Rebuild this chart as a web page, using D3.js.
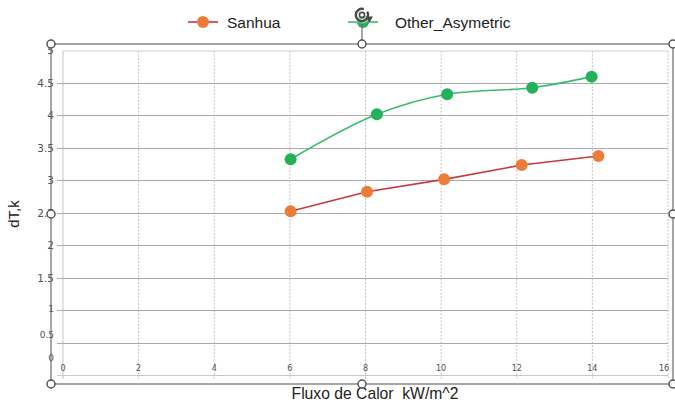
<!DOCTYPE html>
<html>
<head>
<meta charset="utf-8">
<script src="https://cdn.jsdelivr.net/npm/d3@7"></script>
<style>
  html, body { margin: 0; padding: 0; background: #fff; }
  svg { display: block; }
</style>
</head>
<body>
<svg id="chart" width="675" height="406"></svg>
<script>
// Heat flux (kW/m^2) vs temperature difference dT (K)
const seriesNames = ["Sanhua", "Other_Asymetric"];
const sanhuaX = [6.02, 8.04, 10.08, 12.13, 14.16];
const sanhuaY = [2.52, 2.82, 3.01, 3.23, 3.37];
const otherX = [6.02, 8.30, 10.16, 12.41, 13.98];
const otherY = [3.32, 4.01, 4.32, 4.42, 4.59];
const xTicks = [0, 2, 4, 6, 8, 10, 12, 14, 16];
const yTicks = [0, 0.5, 1, 1.5, 2, 2.5, 3, 3.5, 4, 4.5, 5];
const yTickLabels = ["0", "0.5", "1", "1.5", "2", "2.5", "3", "3.5", "4", "4.5", "5"];

const svg = d3.select("#chart");
const x = d3.scaleLinear().domain([0, 16]).range([63, 668]);
const y = d3.scaleLinear().domain([0, 5]).range([375, 50]);

const COL = {
  sanhuaLine: "#c8383c", sanhuaDot: "#ec7c3a",
  otherLine: "#3dba6e", otherDot: "#22b35a",
  hGrid: "#a9a9a9", vGrid: "#c4c4c4", frame: "#6b6b6b", text: "#505050"
};

// vertical dashed gridlines
svg.append("g").selectAll("line").data(xTicks).join("line")
  .attr("x1", d => x(d)).attr("x2", d => x(d))
  .attr("y1", y(5) + 1).attr("y2", y(0) + 4)
  .attr("stroke", COL.vGrid).attr("stroke-width", 1)
  .attr("stroke-dasharray", d => d === 0 ? null : "2,1.5");

// plot area top border
svg.append("line").attr("x1", x(0)).attr("x2", x(16)).attr("y1", y(5) + 1).attr("y2", y(5) + 1)
  .attr("stroke", "#cfcfcf");

// horizontal gridlines
svg.append("g").selectAll("line").data(yTicks.filter(d => d < 5)).join("line")
  .attr("x1", 57).attr("x2", x(16))
  .attr("y1", d => Math.round(y(d)) + 0.5).attr("y2", d => Math.round(y(d)) + 0.5)
  .attr("stroke", d => d === 0 ? "#c8c8c8" : COL.hGrid).attr("stroke-width", 1);

// y tick labels (lowest ones sit above their gridlines)
const yLabelShift = { 0: -18, 0.5: -9, 1: -2 };
svg.append("g").selectAll("text").data(yTicks).join("text")
  .attr("x", 54).attr("y", d => y(d) + 4 + (yLabelShift[d] || 0))
  .attr("text-anchor", "end")
  .attr("font-family", "DejaVu Sans, sans-serif")
  .attr("font-size", d => d <= 1 ? 9 : 10.5)
  .attr("fill", COL.text)
  .text((d, i) => yTickLabels[i]);

// x tick labels
svg.append("g").selectAll("text").data(xTicks).join("text")
  .attr("x", d => x(d) + (d === 16 ? -4 : 0)).attr("y", y(0) - 4)
  .attr("text-anchor", "middle")
  .attr("font-family", "DejaVu Sans, sans-serif")
  .attr("font-size", 8)
  .attr("fill", COL.text)
  .text(d => d);

// series
const sanhua = sanhuaX.map((v, i) => [v, sanhuaY[i]]);
const other = otherX.map((v, i) => [v, otherY[i]]);

svg.append("path").datum(sanhua)
  .attr("d", d3.line().x(d => x(d[0])).y(d => y(d[1])))
  .attr("fill", "none").attr("stroke", COL.sanhuaLine).attr("stroke-width", 1.6);
svg.append("path").datum(other)
  .attr("d", d3.line().x(d => x(d[0])).y(d => y(d[1])).curve(d3.curveCatmullRom.alpha(0.5)))
  .attr("fill", "none").attr("stroke", COL.otherLine).attr("stroke-width", 1.6);

svg.append("g").selectAll("circle").data(sanhua).join("circle")
  .attr("cx", d => x(d[0])).attr("cy", d => y(d[1])).attr("r", 6)
  .attr("fill", COL.sanhuaDot);
svg.append("g").selectAll("circle").data(other).join("circle")
  .attr("cx", d => x(d[0])).attr("cy", d => y(d[1])).attr("r", 6)
  .attr("fill", COL.otherDot);

// axis titles
svg.append("text").attr("transform", "translate(19,214) rotate(-90)")
  .attr("text-anchor", "middle")
  .attr("font-family", "Liberation Sans, Arial, sans-serif").attr("font-size", 15)
  .attr("fill", "#222").text("dT,k");
svg.append("text").attr("x", 375).attr("y", 399)
  .attr("text-anchor", "middle").attr("xml:space", "preserve")
  .attr("font-family", "Liberation Sans, Arial, sans-serif").attr("font-size", 15.7)
  .attr("fill", "#222").text("Fluxo de Calor  kW/m^2");

// legend
const legend = [
  { name: seriesNames[0], line: COL.sanhuaLine, dot: COL.sanhuaDot, x0: 188, tx: 227 },
  { name: seriesNames[1], line: COL.otherLine, dot: COL.otherDot, x0: 348, tx: 395 }
];
const lg = svg.append("g").selectAll("g").data(legend).join("g");
lg.append("line").attr("x1", d => d.x0).attr("x2", d => d.x0 + 30)
  .attr("y1", 22).attr("y2", 22).attr("stroke", d => d.line).attr("stroke-width", 1.6);
lg.append("circle").attr("cx", d => d.x0 + 15).attr("cy", 22).attr("r", 6).attr("fill", d => d.dot);
lg.append("text").attr("x", d => d.tx).attr("y", 27.5)
  .attr("font-family", "Liberation Sans, Arial, sans-serif").attr("font-size", 15.5)
  .attr("fill", "#222").text(d => d.name);

// selection frame with handles
const fx0 = 51, fx1 = 673, fy0 = 44, fy1 = 384;
svg.append("rect").attr("x", fx0).attr("y", fy0).attr("width", fx1 - fx0).attr("height", fy1 - fy0)
  .attr("fill", "none").attr("stroke", COL.frame).attr("stroke-width", 1.2);
const fym = (fy0 + fy1) / 2;
svg.append("line").attr("x1", 362).attr("x2", 362).attr("y1", 24).attr("y2", fy0)
  .attr("stroke", COL.frame).attr("stroke-width", 1.2);
const handles = [[fx0, fy0], [362, fy0], [fx1, fy0], [fx0, fym], [fx1, fym], [fx0, fy1], [362, fy1], [fx1, fy1]];
svg.append("g").selectAll("circle").data(handles).join("circle")
  .attr("cx", d => d[0]).attr("cy", d => d[1]).attr("r", 4)
  .attr("fill", "#fff").attr("stroke", "#555").attr("stroke-width", 1.5);

// rotation handle
const rot = svg.append("g").attr("transform", "translate(362,15)");
rot.append("circle").attr("r", 8.5).attr("fill", "#fff").attr("fill-opacity", 0.55);
rot.append("path")
  .attr("d", d3.arc()({ innerRadius: 6.2, outerRadius: 6.2, startAngle: 1.0, endAngle: 2 * Math.PI + 0.3 }))
  .attr("fill", "none").attr("stroke", "#4a4a4a").attr("stroke-width", 2.4);
rot.append("circle").attr("r", 2.6).attr("fill", "none").attr("stroke", "#4a4a4a").attr("stroke-width", 1.6);
rot.append("path").attr("d", "M3.5,1.5 L11,1.5 L7.5,7.5 Z").attr("fill", "#4a4a4a");
</script>
</body>
</html>
